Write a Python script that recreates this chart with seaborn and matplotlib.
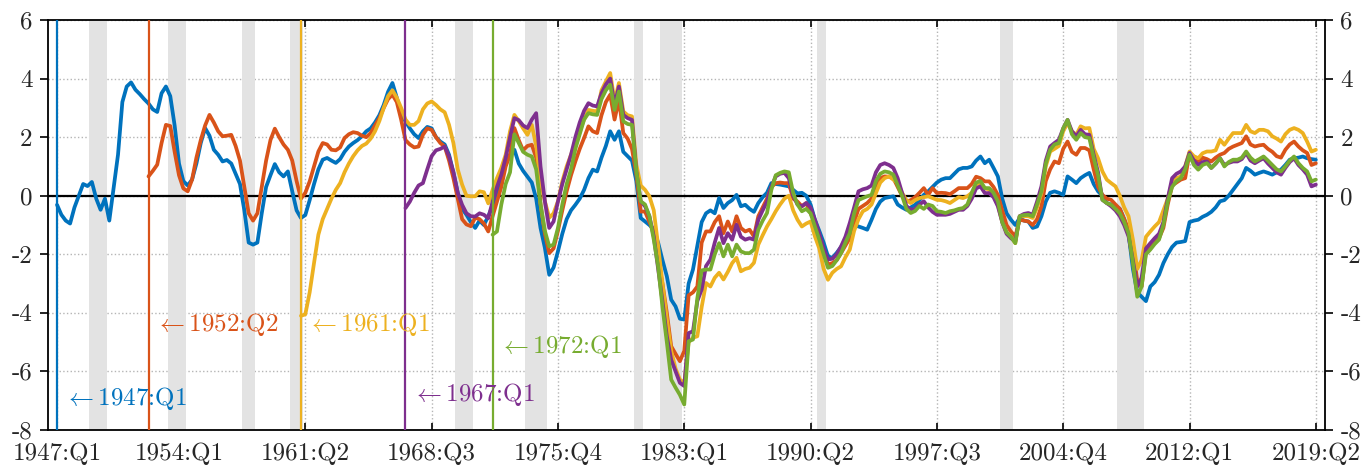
import numpy as np
import matplotlib
matplotlib.use('Agg')
import matplotlib.pyplot as plt
import seaborn as sns

# quarter labels -> index from 1947:Q1
def qidx(label):
    year, q = label.split(':Q')
    return (int(year) - 1947) * 4 + int(q) - 1

vintages = ['1947:Q1', '1952:Q2', '1961:Q1', '1967:Q1', '1972:Q1']
colors = ['#0072BD', '#D95319', '#EDB120', '#7E2F8E', '#77AC30']
label_y = [-6.93, -4.4, -4.4, -6.8, -5.15]

xtick_labels = ['1947:Q1', '1954:Q1', '1961:Q2', '1968:Q3', '1975:Q4', '1983:Q1',
                '1990:Q2', '1997:Q3', '2004:Q4', '2012:Q1', '2019:Q2']
yticks = [-8, -6, -4, -2, 0, 2, 4, 6]

rec_peaks = ['1948:Q4', '1953:Q2', '1957:Q3', '1960:Q2', '1969:Q4', '1973:Q4',
             '1980:Q1', '1981:Q3', '1990:Q3', '2001:Q1', '2007:Q4']
rec_troughs = ['1949:Q4', '1954:Q2', '1958:Q2', '1961:Q1', '1970:Q4', '1975:Q1',
               '1980:Q3', '1982:Q4', '1991:Q1', '2001:Q4', '2009:Q2']

# series, one value per quarter starting at its vintage
gap_1947q1 = [
    -0.31, -0.65, -0.85, -0.95, -0.40, 0.00, 0.40, 0.33, 0.47, -0.10,
    -0.48, -0.10, -0.85, 0.27, 1.40, 3.20, 3.73, 3.87, 3.62, 3.47,
    3.30, 3.15, 2.95, 2.86, 3.50, 3.73, 3.40, 2.40, 1.10, 0.50,
    0.35, 0.55, 1.10, 1.80, 2.31, 2.05, 1.57, 1.40, 1.17, 1.22,
    1.10, 0.75, 0.40, -0.50, -1.60, -1.67, -1.60, -0.60, 0.30, 0.70,
    1.08, 0.80, 0.66, 0.83, 0.15, -0.50, -0.76, -0.66, -0.15, 0.40,
    0.90, 1.23, 1.29, 1.20, 1.12, 1.25, 1.50, 1.68, 1.80, 1.90,
    2.03, 2.20, 2.30, 2.50, 2.75, 3.10, 3.55, 3.85, 3.35, 2.80,
    2.54, 2.30, 2.10, 1.97, 2.20, 2.35, 2.30, 2.00, 1.85, 1.75,
    1.40, 0.80, 0.10, -0.45, -0.65, -0.90, -1.10, -0.85, -1.00, -0.70,
    -0.35, 0.05, 0.60, 1.10, 1.40, 1.57, 1.10, 0.85, 0.65, 0.45,
    -0.10, -1.10, -1.78, -2.70, -2.45, -1.90, -1.30, -0.80, -0.50, -0.31,
    -0.10, 0.20, 0.60, 0.89, 0.83, 1.30, 1.70, 2.20, 1.91, 2.20,
    1.50, 1.35, 1.20, 0.50, -0.76, -0.88, -1.00, -1.15, -1.60, -2.20,
    -2.75, -3.55, -3.78, -4.20, -4.23, -3.00, -2.52, -1.70, -0.90, -0.60,
    -0.50, -0.60, -0.08, -0.42, -0.25, -0.15, 0.03, -0.36, -0.31, -0.45,
    -0.55, -0.25, -0.05, 0.10, 0.43, 0.40, 0.38, 0.35, 0.32, 0.20,
    0.08, 0.10, 0.00, -0.30, -0.82, -1.20, -1.60, -2.07, -2.12, -1.95,
    -1.75, -1.50, -1.30, -1.00, -1.05, -1.10, -1.16, -0.82, -0.45, -0.20,
    -0.08, -0.05, -0.02, -0.30, -0.40, -0.48, -0.40, -0.31, -0.15, 0.03,
    0.15, 0.30, 0.45, 0.55, 0.60, 0.60, 0.75, 0.90, 0.95, 0.95,
    1.00, 1.20, 1.34, 1.11, 1.23, 0.95, 0.66, -0.10, -0.60, -0.82,
    -1.00, -0.76, -0.85, -0.88, -1.10, -1.05, -0.70, -0.20, 0.10, 0.15,
    0.10, 0.03, 0.66, 0.55, 0.43, 0.60, 0.70, 0.78, 0.40, 0.15,
    0.00, -0.25, -0.30, -0.35, -0.45, -0.80, -1.30, -2.50, -3.30, -3.45,
    -3.60, -3.10, -2.95, -2.70, -2.30, -2.00, -1.75, -1.60, -1.58, -1.55,
    -0.90, -0.85, -0.82, -0.72, -0.65, -0.55, -0.40, -0.19, -0.15, 0.00,
    0.20, 0.40, 0.60, 0.95, 0.85, 0.72, 0.78, 0.83, 0.78, 0.72,
    0.80, 0.89, 1.05, 1.23, 1.28, 1.30, 1.34, 1.28, 1.25, 1.23,
]

gap_1952q2 = [
    0.66, 0.85, 1.06, 1.80, 2.42, 2.38, 1.50, 0.70, 0.25, 0.15,
    0.55, 1.30, 1.90, 2.40, 2.76, 2.50, 2.20, 2.03, 2.05, 2.08,
    1.70, 1.20, 0.30, -0.60, -0.85, -0.60, 0.30, 1.20, 1.90, 2.29,
    2.00, 1.75, 1.57, 1.20, 0.50, -0.10, 0.10, 0.49, 1.00, 1.51,
    1.80, 1.75, 1.57, 1.55, 1.65, 1.97, 2.10, 2.17, 2.14, 2.05,
    2.00, 2.14, 2.40, 2.65, 3.00, 3.30, 3.45, 3.20, 2.60, 1.90,
    1.75, 1.65, 1.68, 2.08, 2.30, 2.25, 2.00, 1.80, 1.68, 1.20,
    0.60, -0.10, -0.80, -0.98, -1.04, -0.75, -0.80, -0.95, -1.22, -0.70,
    -0.20, 0.30, 1.00, 1.40, 2.31, 1.90, 1.55, 1.70, 1.74, 1.30,
    -0.30, -1.30, -1.96, -1.80, -1.20, -0.50, 0.15, 0.70, 1.17, 1.60,
    1.97, 2.37, 2.20, 2.14, 2.75, 3.20, 3.45, 2.60, 3.28, 2.14,
    1.95, 1.60, 0.72, -0.54, -0.54, -0.90, -1.22, -2.18, -3.00, -4.00,
    -5.14, -5.40, -5.65, -5.30, -3.40, -3.30, -3.10, -1.60, -1.22, -1.22,
    -0.90, -0.70, -1.28, -0.88, -1.22, -0.70, -1.10, -1.22, -1.16, -1.39,
    -0.70, -0.40, -0.10, 0.30, 0.43, 0.45, 0.43, 0.43, -0.10, -0.20,
    -0.36, -0.25, -0.60, -0.90, -1.50, -1.95, -2.35, -2.30, -2.20, -1.96,
    -1.70, -1.45, -0.90, -0.45, -0.35, -0.25, -0.10, 0.30, 0.60, 0.66,
    0.65, 0.60, 0.30, 0.00, -0.20, -0.15, -0.05, 0.10, 0.26, 0.03,
    0.26, 0.09, 0.10, 0.09, 0.05, 0.15, 0.26, 0.26, 0.26, 0.40,
    0.65, 0.60, 0.49, 0.49, 0.30, 0.03, -0.50, -1.00, -1.22, -1.39,
    -0.82, -0.85, -0.88, -1.00, -0.80, -0.36, 0.50, 0.90, 1.17, 1.11,
    1.60, 1.85, 1.50, 1.40, 1.63, 1.63, 1.55, 0.90, 0.30, 0.03,
    -0.10, -0.14, -0.30, -0.45, -0.80, -1.16, -1.80, -2.90, -3.10, -1.90,
    -1.73, -1.60, -1.45, -1.10, -0.30, 0.35, 0.45, 0.55, 0.60, 1.46,
    1.25, 1.17, 1.30, 1.25, 1.17, 1.30, 1.40, 1.46, 1.60, 1.68,
    1.74, 1.80, 2.03, 1.75, 1.68, 1.72, 1.74, 1.60, 1.50, 1.35,
    1.30, 1.57, 1.75, 1.85, 1.68, 1.55, 1.46, 1.05, 1.11,
]

gap_1961q1 = [
    -4.10, -4.05, -3.30, -2.30, -1.33, -0.80, -0.45, -0.10, 0.20, 0.43,
    0.80, 1.10, 1.35, 1.55, 1.70, 1.78, 1.95, 2.20, 2.55, 3.00,
    3.40, 3.60, 3.35, 3.00, 2.60, 2.42, 2.42, 2.55, 2.95, 3.15,
    3.22, 3.10, 2.95, 2.85, 2.42, 1.80, 0.90, 0.38, 0.00, -0.02,
    -0.02, 0.15, 0.12, -0.26, 0.20, 0.60, 0.95, 1.40, 2.20, 2.76,
    2.55, 2.30, 2.08, 2.42, 1.70, 0.50, -0.19, -0.75, -0.60, -0.19,
    0.49, 1.00, 1.40, 1.80, 2.20, 2.60, 2.93, 2.90, 2.88, 3.60,
    3.90, 4.19, 3.22, 3.85, 2.88, 2.75, 2.71, 1.06, 0.35, 0.20,
    -0.02, -0.50, -1.70, -3.00, -4.20, -5.30, -5.90, -6.28, -6.40, -5.00,
    -4.85, -4.80, -3.80, -2.98, -3.10, -2.80, -2.63, -2.86, -2.60, -2.30,
    -2.12, -2.58, -2.50, -2.46, -2.29, -1.67, -1.35, -1.05, -0.80, -0.53,
    -0.30, -0.10, 0.00, -0.50, -0.82, -1.05, -0.95, -0.88, -1.39, -1.80,
    -2.50, -2.87, -2.63, -2.50, -2.41, -2.10, -1.84, -1.20, -0.80, -0.53,
    -0.45, -0.30, 0.09, 0.45, 0.60, 0.66, 0.55, 0.43, 0.10, -0.15,
    -0.25, -0.15, -0.08, -0.05, -0.02, -0.08, -0.14, -0.15, -0.19, -0.25,
    -0.15, -0.05, -0.08, -0.02, 0.10, 0.30, 0.43, 0.26, 0.20, 0.00,
    -0.31, -0.90, -1.25, -1.39, -1.62, -0.70, -0.70, -0.70, -0.76, -0.40,
    0.09, 1.00, 1.51, 1.60, 1.70, 2.20, 2.48, 2.20, 2.08, 2.37,
    2.30, 2.31, 1.60, 1.28, 0.83, 0.55, 0.43, 0.32, 0.00, -0.40,
    -0.70, -1.50, -2.50, -2.20, -1.40, -1.22, -1.05, -0.90, -0.50, -0.10,
    0.45, 0.60, 0.66, 1.00, 1.51, 1.35, 1.28, 1.45, 1.51, 1.51,
    1.55, 1.91, 1.74, 1.95, 2.14, 2.14, 2.14, 2.42, 2.20, 2.14,
    2.25, 2.25, 2.20, 2.03, 1.95, 1.85, 2.10, 2.25, 2.31, 2.25,
    2.14, 1.85, 1.51, 1.57,
]

gap_1967q1 = [
    -0.42, -0.20, 0.10, 0.35, 0.43, 0.90, 1.35, 1.55, 1.60, 1.68,
    1.34, 0.80, 0.10, -0.31, -0.60, -0.70, -0.71, -0.60, -0.65, -0.77,
    -0.20, 0.30, 0.72, 1.30, 2.00, 2.65, 2.58, 2.40, 2.31, 2.60,
    2.82, 1.00, -0.19, -1.10, -0.88, -0.20, 0.40, 0.90, 1.40, 2.00,
    2.50, 2.90, 3.16, 3.08, 3.05, 3.50, 3.80, 4.00, 3.10, 3.73,
    2.76, 2.65, 2.59, 0.83, -0.19, -0.36, -0.70, -1.39, -2.50, -3.60,
    -4.80, -5.60, -6.00, -6.39, -6.50, -4.69, -4.63, -3.60, -3.20, -2.40,
    -2.18, -1.60, -1.10, -1.62, -1.28, -1.50, -0.99, -1.40, -1.50, -1.45,
    -1.50, -0.82, -0.50, -0.20, 0.30, 0.66, 0.75, 0.78, 0.60, 0.00,
    -0.30, -0.36, -0.25, -0.40, -0.82, -1.30, -1.80, -2.18, -2.15, -2.00,
    -1.73, -1.40, -0.93, -0.40, 0.15, 0.22, 0.26, 0.35, 0.80, 1.05,
    1.11, 1.05, 0.95, 0.60, 0.10, -0.35, -0.48, -0.45, -0.30, -0.19,
    -0.40, -0.55, -0.65, -0.65, -0.65, -0.62, -0.55, -0.48, -0.48, -0.35,
    -0.10, 0.25, 0.32, 0.09, 0.09, -0.05, -0.36, -0.90, -1.30, -1.45,
    -1.56, -0.70, -0.62, -0.59, -0.65, -0.20, 0.32, 1.20, 1.68, 1.80,
    1.91, 2.30, 2.59, 2.20, 2.03, 2.25, 2.10, 2.08, 1.40, 0.80,
    -0.14, -0.25, -0.36, -0.50, -0.70, -1.00, -1.39, -2.20, -3.10, -2.80,
    -1.80, -1.62, -1.45, -1.30, -0.90, -0.10, 0.60, 0.75, 0.83, 1.00,
    1.46, 1.20, 1.05, 1.15, 1.17, 0.95, 1.10, 1.28, 1.05, 1.12,
    1.17, 1.17, 1.25, 1.46, 1.20, 1.11, 1.20, 1.28, 1.10, 0.95,
    0.80, 0.72, 0.95, 1.15, 1.28, 1.05, 0.90, 0.72, 0.32, 0.38,
]

gap_1972q1 = [
    -1.33, -1.22, -0.30, 0.40, 0.80, 2.10, 1.80, 1.50, 1.40, 1.34,
    0.90, -0.30, -1.20, -1.73, -1.67, -1.10, -0.30, 0.40, 0.90, 1.60,
    2.10, 2.60, 2.82, 2.78, 2.76, 3.30, 3.60, 3.79, 2.93, 3.56,
    2.54, 2.45, 2.42, 0.83, -0.19, -0.30, -0.70, -1.50, -2.41, -3.80,
    -5.00, -6.28, -6.55, -6.80, -7.13, -4.97, -4.91, -3.50, -2.55, -2.52,
    -2.52, -2.00, -1.62, -2.07, -1.67, -2.07, -1.67, -1.90, -1.96, -1.96,
    -1.84, -1.16, -0.85, -0.59, 0.20, 0.70, 0.78, 0.83, 0.80, 0.10,
    -0.30, -0.53, -0.45, -0.60, -1.05, -1.50, -2.00, -2.46, -2.40, -2.20,
    -1.96, -1.60, -1.28, -0.60, -0.15, -0.08, -0.02, 0.03, 0.50, 0.75,
    0.83, 0.80, 0.72, 0.35, 0.00, -0.45, -0.59, -0.52, -0.35, -0.45,
    -0.30, -0.35, -0.53, -0.55, -0.59, -0.53, -0.50, -0.45, -0.42, -0.30,
    0.10, 0.45, 0.50, 0.26, 0.26, 0.10, -0.19, -0.90, -1.25, -1.40,
    -1.62, -0.70, -0.66, -0.65, -0.70, -0.30, 0.15, 1.10, 1.57, 1.75,
    1.80, 2.30, 2.59, 2.10, 1.91, 2.14, 2.00, 1.97, 1.30, 0.70,
    -0.14, -0.25, -0.31, -0.45, -0.60, -0.90, -1.28, -2.30, -3.45, -3.10,
    -2.00, -1.84, -1.65, -1.50, -1.00, -0.20, 0.30, 0.50, 0.60, 0.90,
    1.40, 1.05, 0.89, 1.05, 1.11, 0.95, 1.10, 1.28, 1.00, 1.15,
    1.23, 1.23, 1.30, 1.51, 1.30, 1.17, 1.25, 1.34, 1.20, 1.05,
    0.90, 0.83, 1.00, 1.20, 1.34, 1.11, 0.95, 0.83, 0.49, 0.55,
]

series = [gap_1947q1, gap_1952q2, gap_1961q1, gap_1967q1, gap_1972q1]

sns.set_theme(style='white')
plt.rcParams['font.family'] = ['cmr10', 'DejaVu Serif']
plt.rcParams['mathtext.fontset'] = 'cm'
plt.rcParams['axes.unicode_minus'] = False
plt.rcParams['axes.formatter.use_mathtext'] = True

fig = plt.figure(figsize=(13.64, 4.70), dpi=100)
ax = fig.add_axes([0.0352, 0.0851, 0.9362, 0.8723])

# recession bands
for p, t in zip(rec_peaks, rec_troughs):
    ax.axvspan(qidx(p) + 0.4, qidx(t) + 0.5, color='#e3e3e3', lw=0, zorder=1)

ax.axhline(0, color='black', lw=1.6, zorder=2)

for i, (vint, vals, c) in enumerate(zip(vintages, series, colors)):
    start = qidx(vint)
    x = np.arange(start, start + len(vals))
    sns.lineplot(x=x, y=vals, ax=ax, color=c, linewidth=2.7, zorder=3 + i)

for i, (vint, c, ly) in enumerate(zip(vintages, colors, label_y)):
    s = qidx(vint)
    ax.axvline(s, color=c, lw=1.6, zorder=10)
    ax.text(s + 1.5, ly, r'$\leftarrow$' + vint, color=c, fontsize=18,
            ha='left', va='center', zorder=11)

ax.set_xlim(-2.07, 291.1)
ax.set_ylim(-8, 6)
ax.set_xticks([qidx(l) for l in xtick_labels])
ax.set_xticklabels(xtick_labels)
ax.set_yticks(yticks)
ax.set_yticklabels([str(v) for v in yticks])

ax.set_axisbelow(True)
ax.grid(True, linestyle=':', color='#b5b5b5', linewidth=1.0)

ax.tick_params(axis='x', direction='in', top=True, bottom=True, length=5,
               width=1.2, labelsize=18, pad=9, color='black')
ax.tick_params(axis='y', direction='out', left=True, right=True, labelleft=True,
               labelright=True, length=6, width=1.2, labelsize=18, pad=5,
               color='black')
for sp in ax.spines.values():
    sp.set_visible(True)
    sp.set_color('black')
    sp.set_linewidth(1.3)

fig.savefig('out.png', dpi=100)
plt.close(fig)
